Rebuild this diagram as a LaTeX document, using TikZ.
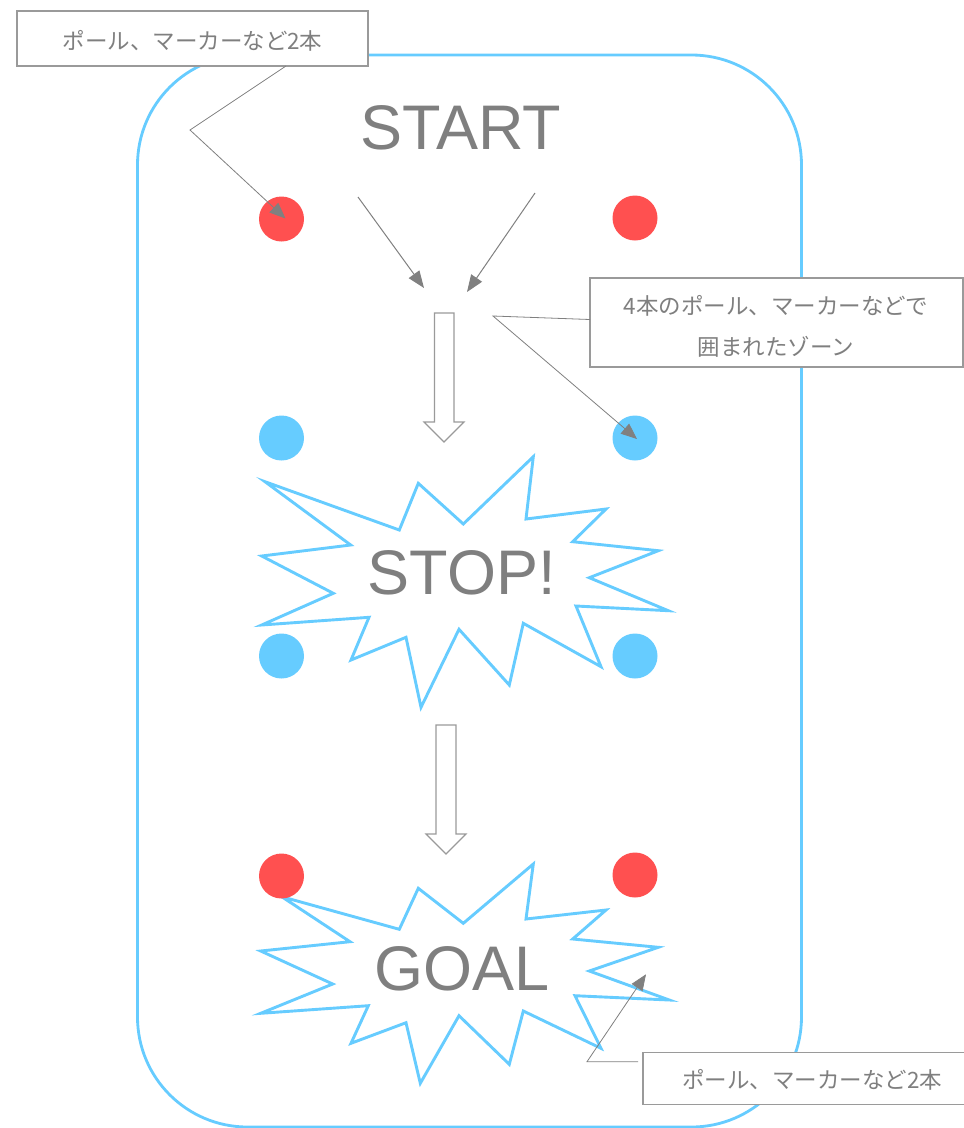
\documentclass[tikz,border=0pt]{standalone}
\usepackage{fontspec}
\setmainfont{Liberation Sans}
\newfontfamily\jpfont{Noto Sans CJK JP}
\usetikzlibrary{arrows.meta}
\definecolor{txtgray}{HTML}{7F7F7F}
\definecolor{boxgray}{HTML}{9A9A9A}
\definecolor{linegray}{HTML}{808080}
\definecolor{poleRed}{HTML}{FF5050}
\definecolor{poleBlue}{HTML}{66CCFF}
\tikzset{
  zone/.style={draw=poleBlue, line width=2.8pt, rounded corners=110pt},
  burst/.style={draw=poleBlue, line width=2.9pt, fill=white, line join=miter},
  reddot/.style={circle, fill=poleRed, minimum size=45pt, inner sep=0pt},
  bluedot/.style={circle, fill=poleBlue, minimum size=45pt, inner sep=0pt},
  callout/.style={draw=boxgray, line width=1.2pt, fill=white, inner sep=0pt},
  jptext/.style={font=\jpfont\fontsize{22.5}{27}\selectfont, text=txtgray, inner sep=0pt},
  bigword/.style={font=\fontsize{63}{70}\selectfont, text=txtgray, inner sep=0pt},
  leader/.style={draw=linegray, line width=0.8pt, -{Triangle[length=16pt,width=13pt,fill=linegray]}},
  startarrow/.style={draw=linegray, line width=1pt, -{Triangle[length=17pt,width=13pt,fill=linegray]}},
  blockarrow/.style={draw=boxgray, line width=1.2pt, fill=white, line join=miter}
}
\begin{document}
\begin{tikzpicture}[x=1pt,y=-1pt]
\useasboundingbox (0,0) rectangle (964,1128);
\clip (0,0) rectangle (964,1128);
\fill[white] (0,0) rectangle (964,1128);

% zone outline
\draw[zone] (137.5,55) rectangle (801.5,1127);

% STOP burst
\draw[burst] (265,481.7) -- (399.3,530) -- (418.3,483.3) -- (463.3,524) -- (533.3,456.7)
  -- (526,519) -- (606,509) -- (572.7,541.7) -- (658.3,550.7) -- (589.3,577.7)
  -- (668.3,610.7) -- (576,606) -- (601,666.7) -- (523.3,623.3) -- (509.3,685)
  -- (459,629.3) -- (421,707.3) -- (406,637.3) -- (351,660) -- (369,617.3)
  -- (261.7,625) -- (333.3,593.3) -- (261.7,556) -- (350.7,545) -- cycle;

% GOAL burst
\draw[burst] (281.7,896.7) -- (399.3,929.3) -- (418.3,888.3) -- (463.3,923.3) -- (533.3,864)
  -- (526,919) -- (606,910) -- (572.7,939) -- (658.3,947.3) -- (589.3,971)
  -- (669.3,1000) -- (575,995.7) -- (601,1048.3) -- (523.3,1011) -- (509.3,1064.3)
  -- (459,1015.7) -- (420.3,1083.3) -- (406,1022.7) -- (351,1043.3) -- (368.3,1005.7)
  -- (260.7,1013.3) -- (332.7,984) -- (260.7,951) -- (350,941.7) -- cycle;

% words
\node[bigword] (start) at (460.7,128) {START};
\node[bigword] (stop) at (461.7,573) {STOP!};
\node[bigword] (goal) at (461.7,969) {GOAL};

% poles
\node[reddot] (r1) at (281.5,219) {};
\node[reddot] (r2) at (635,218) {};
\node[bluedot] (b1) at (281.5,438) {};
\node[bluedot] (b2) at (635,438) {};
\node[bluedot] (b3) at (281.5,656) {};
\node[bluedot] (b4) at (635,656) {};
\node[reddot] (r3) at (281.5,876) {};
\node[reddot] (r4) at (635,875) {};

% start arrows
\coordinate (sa1) at (358,197);
\coordinate (sa1t) at (424,288);
\coordinate (sa2) at (535,193);
\coordinate (sa2t) at (467,292);
\draw[startarrow] (sa1) -- (sa1t);
\draw[startarrow] (sa2) -- (sa2t);

% block arrows
\draw[blockarrow] (434.5,313) -- (454,313) -- (454,422) -- (464,422) -- (444,442)
  -- (424,422) -- (434.5,422) -- cycle;
\draw[blockarrow] (436,725) -- (456,725) -- (456,834) -- (466,834) -- (446,854)
  -- (426,834) -- (436,834) -- cycle;

% callouts
\node[callout, minimum width=351pt, minimum height=55pt] (note1) at (192.5,38.5) {};
\node[jptext] (note1t) at (192.5,40.5) {ポール、マーカーなど2本};

\node[callout, minimum width=373pt, minimum height=89pt] (note2) at (776.5,322.5) {};
\node[jptext] (note2a) at (776,305.5) {4本のポール、マーカーなどで};
\node[jptext] (note2b) at (776,347) {囲まれたゾーン};

\node[callout, minimum width=347pt, minimum height=52pt] (note3) at (816.5,1078.3) {};
\node[jptext] (note3t) at (812,1080) {ポール、マーカーなど2本};

% leaders
\coordinate (l1a) at (286,66);
\coordinate (l1b) at (190,130);
\coordinate (l1t) at (285.5,218.5);
\draw[leader] (l1a) -- (l1b) -- (l1t);

\coordinate (l2a) at (590,319.5);
\coordinate (l2b) at (493,316);
\coordinate (l2t) at (637,439);
\draw[leader] (l2a) -- (l2b) -- (l2t);

\coordinate (l3a) at (638,1061.7);
\coordinate (l3b) at (587,1061.7);
\coordinate (l3t) at (646,974.3);
\draw[leader] (l3a) -- (l3b) -- (l3t);
\end{tikzpicture}
\end{document}
